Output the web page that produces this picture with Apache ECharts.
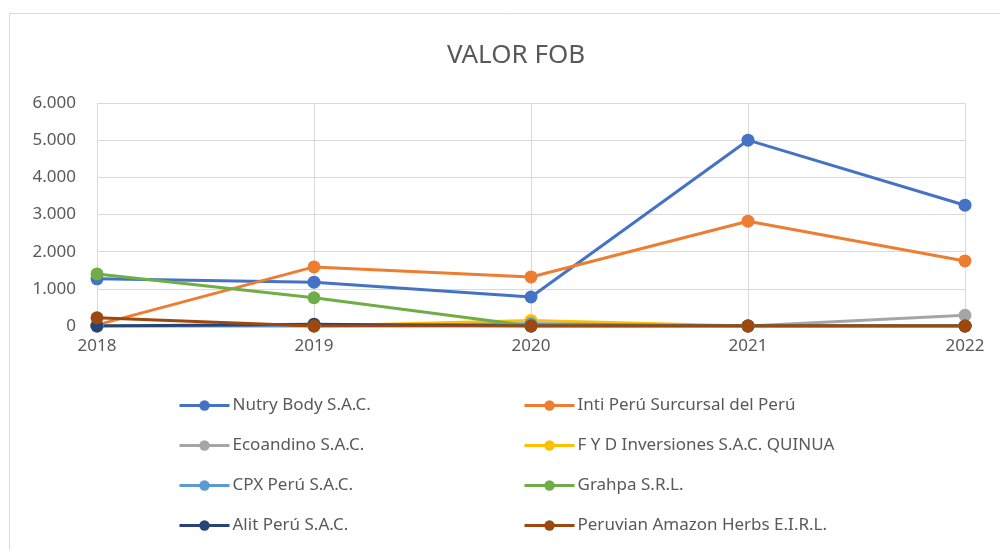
<!DOCTYPE html>
<html><head><meta charset="utf-8">
<script src="https://cdn.jsdelivr.net/npm/echarts@6/dist/echarts.min.js"></script>
<style>html,body{margin:0;padding:0;background:#fff}#c{width:1000px;height:550px}</style>
</head><body><div id="c"></div>
<script>
const years = ['2018','2019','2020','2021','2022'];
const nutryBody = [1270, 1180, 780, 5000, 3250];
const intiPeru = [30, 1590, 1320, 2820, 1750];
const ecoandino = [0, 0, 0, 0, 290];
const fydInversiones = [0, 0, 150, 0, 0];
const cpxPeru = [0, 0, 60, 0, 0];
const grahpa = [1400, 760, 0, 0, 0];
const alitPeru = [0, 50, 0, 0, 0];
const peruvianAmazon = [220, 0, 0, 0, 0];
const seriesNames = ['Nutry Body S.A.C.','Inti Perú Surcursal del Perú','Ecoandino S.A.C.','F Y D Inversiones S.A.C. QUINUA','CPX Perú S.A.C.','Grahpa S.R.L.','Alit Perú S.A.C.','Peruvian Amazon Herbs E.I.R.L.'];
const seriesData = [nutryBody, intiPeru, ecoandino, fydInversiones, cpxPeru, grahpa, alitPeru, peruvianAmazon];
const colors = ['#4472C4','#ED7D31','#A5A5A5','#FFC000','#5B9BD5','#70AD47','#264478','#9E480E'];
const txt = '#595959';
const font = 'Noto Sans';
const chart = echarts.init(document.getElementById('c'));
const legendCommon = {orient:'vertical', top:392, itemWidth:50, itemHeight:13, itemGap:23,
  lineStyle:{width:3},
  textStyle:{color:txt, fontSize:17, fontFamily:font, padding:[0,0,0,-2]}};
chart.setOption({
  animation:false,
  color: colors,
  title:{text:'VALOR FOB', left:511, textAlign:'center', top:38, textStyle:{color:txt, fontSize:26, fontWeight:'normal', fontFamily:font}},
  graphic:[{type:'rect', shape:{x:9.5, y:13.5, width:1000, height:560}, style:{fill:'none', stroke:'#d9d9d9', lineWidth:1}}],
  grid:{left:97, right:35, top:103, bottom:224},
  legend:[
    Object.assign({left:173, data:[seriesNames[0],seriesNames[2],seriesNames[4],seriesNames[6]]}, legendCommon),
    Object.assign({left:518, data:[seriesNames[1],seriesNames[3],seriesNames[5],seriesNames[7]]}, legendCommon)
  ],
  xAxis:{type:'category', data:years, boundaryGap:false,
    axisLine:{show:true, lineStyle:{color:'#d9d9d9'}}, axisTick:{show:false},
    splitLine:{show:true, lineStyle:{color:'#d9d9d9', width:1}},
    axisLabel:{color:txt, fontSize:17, fontFamily:font, margin:12}},
  yAxis:{type:'value', min:0, max:6000, interval:1000,
    axisLine:{show:false}, axisTick:{show:false},
    splitLine:{lineStyle:{color:'#d9d9d9', width:1}},
    axisLabel:{color:txt, fontSize:17, fontFamily:font, margin:21,
      formatter:v=>v===0?'0':String(v).replace(/\B(?=(\d{3})+(?!\d))/g,'.')}},
  series: seriesNames.map((n,i)=>({name:n, type:'line', data:seriesData[i], symbol:'circle', symbolSize:13,
    lineStyle:{width:3, color:colors[i]}, itemStyle:{color:colors[i]}}))
});
</script></body></html>
